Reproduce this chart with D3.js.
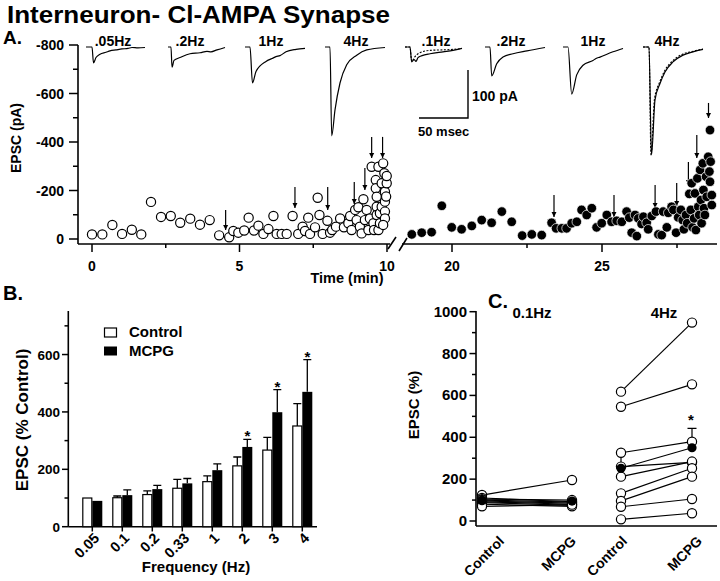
<!DOCTYPE html>
<html><head><meta charset="utf-8">
<script src="https://cdn.jsdelivr.net/npm/d3@7"></script>
<style>
body{margin:0;background:#fff}
text{font-family:"Liberation Sans",Arial,Helvetica,sans-serif;font-weight:bold;fill:#000}
</style>
</head><body>
<svg id="c" width="720" height="581"></svg>
<script>
// ---------------- DATA ----------------
// Panel A: EPSC amplitude (pA) vs time (min)
const controlPts = [
[0.00,-19],[0.35,-19],[0.69,-58],[1.02,-21],[1.35,-38],[1.67,-19],[2.00,-153],[2.34,-91],[2.67,-95],[2.99,-67],[3.33,-84],[3.66,-59],[3.99,-78],[4.31,-15],[4.65,-7],[4.79,-33],[4.96,-26],[5.16,-35],[5.31,-88],[5.49,-35],[5.64,-55],[5.81,-21],[5.98,-41],[6.15,-95],[6.26,-21],[6.43,-21],[6.60,-21],[6.80,-95],[6.99,-21],[7.14,-51],[7.22,-33],[7.33,-88],[7.39,-21],[7.56,-48],[7.65,-170],[7.71,-99],[7.82,-21],[7.98,-75],[8.07,-26],[8.14,-37],[8.27,-51],[8.41,-85],[8.54,-48],[8.69,-65],[8.75,-95],[8.80,-37],[8.92,-120],[8.97,-78],[9.03,-131],[9.08,-51],[9.14,-23],[9.20,-164],[9.25,-78],[9.31,-120],[9.37,-37],[9.42,-85],[9.48,-298],[9.54,-65],[9.56,-37],[9.62,-243],[9.62,-209],[9.65,-174],[9.65,-133],[9.65,-99],[9.71,-298],[9.71,-37],[9.76,-106],[9.76,-65],[9.82,-230],[9.82,-133],[9.87,-312],[9.91,-271],[9.93,-195],[9.93,-154],[9.93,-113],[9.93,-85],[9.87,-58],[9.99,-230],[9.99,-260],[9.97,-175]
];
const mcpgPts = [
[18.66,-19],[18.99,-26],[19.32,-28],[19.66,-137],[19.99,-48],[20.32,-40],[20.66,-54],[20.99,-78],[21.32,-67],[21.66,-113],[21.99,-71],[22.34,-14],[22.66,-19],[22.99,-16],[23.32,-67],[23.47,-44],[23.66,-44],[23.82,-44],[23.99,-65],[24.16,-71],[24.32,-120],[24.49,-99],[24.66,-127],[24.82,-48],[24.99,-65],[25.16,-99],[25.32,-71],[25.49,-75],[25.66,-71],[25.82,-113],[25.91,-88],[25.99,-26],[26.10,-99],[26.16,-12],[26.21,-85],[26.32,-62],[26.38,-92],[26.49,-67],[26.54,-40],[26.66,-95],[26.80,-113],[26.88,-19],[26.99,-16],[27.04,-113],[27.16,-48],[27.21,-108],[27.32,-133],[27.38,-120],[27.47,-26],[27.54,-89],[27.63,-120],[27.69,-78],[27.73,-40],[27.80,-99],[27.84,-65],[27.91,-186],[27.96,-120],[27.99,-230],[28.02,-48],[28.07,-85],[28.10,-188],[28.13,-37],[28.18,-250],[28.21,-133],[28.24,-99],[28.27,-285],[28.30,-161],[28.32,-65],[28.36,-312],[28.38,-202],[28.40,-127],[28.43,-99],[28.47,-257],[28.49,-174],[28.54,-339],[28.58,-278],[28.60,-236],[28.62,-319],[28.66,-181],[28.66,-140],[28.60,-449]
];
// arrows: [time, tail pA, tip pA]
const controlArrows = [[4.53,-120,-37],[6.88,-214,-128],[7.99,-214,-120],[8.89,-235,-144],[9.25,-293,-202],[9.48,-421,-334],[9.85,-421,-334]];
const mcpgArrows = [[23.4,-181,-91],[25.4,-181,-91],[26.77,-223,-128],[27.49,-231,-136],[27.88,-318,-223],[28.16,-429,-334],[28.55,-561,-499]];
const yTicksA = [0,-200,-400,-600,-800];
const xTicksLeft = [0,5,10];
const xTicksRight = [20,25];

// Sample traces [ms, pA]
const traceLabelsCtl = [".05Hz",".2Hz","1Hz","4Hz"];
const traceLabelsMcpg = [".1Hz",".2Hz","1Hz","4Hz"];
const tracesCtl = [
 [[-6,0],[0,0],[1.5,-33],[4,-22],[8,-15],[14,-11],[18,-8],[24,-6],[30,-4],[36,-3],[40,-1],[46,-2],[53,-1]],
 [[-3,0],[0,0],[1,-42],[3,-28],[9,-22],[19,-14],[29,-12],[36,-9],[40,-10],[46,-6],[54,-1]],
 [[-5,0],[0,0],[2.5,-75],[6,-51],[16,-30],[22,-24],[26,-20],[30,-18],[36,-10],[46,-5],[55,-3]],
 [[-5,0],[0,0],[1.7,-185],[5,-131],[10,-75],[16.7,-37],[26.7,-17],[36.7,-6],[55,-1]]
];
const tracesMcpg = [
 [[-5,0],[0,0],[1.7,-31],[4,-26],[6,-30],[8,-22],[12,-18],[20,-14],[33,-10],[43,-7],[52,-3]],
 [[-5,0],[0,0],[1.7,-60],[6.7,-35],[13,-21],[23,-14],[37,-8],[55,-1]],
 [[-5,0],[0,0],[3.7,-98],[8.7,-58],[15,-38],[25,-28],[28,-24],[32,-21],[45,-10],[55,-3]],
 [[-6,0],[0,0],[2.5,-225],[6,-110],[11,-76],[16,-52],[24,-31],[34,-17],[44,-10],[54,-5]]
];
const tracesMcpgDashed = [
 [[-5,0],[0,0],[1.7,-30],[5,-20],[10,-12],[20,-7],[33,-6],[43,-5],[52,-3]],
 null, null,
 [[-6,0],[0,0],[2,-225],[5.5,-108],[10.5,-74],[15.5,-50],[23.5,-29],[33.5,-15],[44,-9],[54,-4]]
];

// Panel B: EPSC (% control) by frequency
const freqLabels = ["0.05","0.1","0.2","0.33","1","2","3","4"];
const bControl = [100,101,112,134,157,212,267,351];
const bControlSem = [0,6,13,31,20,31,44,78];
const bMcpg = [90,110,131,151,197,278,399,470];
const bMcpgSem = [0,18,13,17,22,26,79,112];
const bSignificant = [false,false,false,false,false,true,true,true];
const yTicksB = [0,200,400,600];

// Panel C: individual cells (EPSC %)
const cCategories = ["Control","MCPG","Control ","MCPG "];
const c01Control = [124,110,104,100,96,92,88,80,70];
const c01Mcpg = [196,92,100,90,85,80,75,70,78];
const c4Control = [618,546,326,260,212,132,96,68,8];
const c4Mcpg = [948,653,379,280,284,252,212,105,37];
const c01Mean = [97,95];
const c4Mean = [252,350];
const c4Sem = [68,93];
const yTicksC = [0,200,400,600,800,1000];

// ---------------- DRAW ----------------
const svg = d3.select("#c");

svg.append("text").attr("x",7).attr("y",23).style("font-size","23px")
  .attr("textLength",383).attr("lengthAdjust","spacingAndGlyphs")
  .text("Interneuron- Cl-AMPA Synapse");
svg.append("text").attr("x",3).attr("y",44).style("font-size","19px").text("A.");
svg.append("text").attr("x",3).attr("y",300).style("font-size","20px").text("B.");
svg.append("text").attr("x",488).attr("y",308).style("font-size","20px").text("C.");

// ===== Panel A =====
const A = svg.append("g");
const yA = d3.scaleLinear().domain([0,-800]).range([239,45]);
const xL = d3.scaleLinear().domain([0,10]).range([92,387]);
const xR = d3.scaleLinear().domain([20,25]).range([452,602]);
const axisYA = 244;

A.append("line").attr("x1",78).attr("x2",78).attr("y1",45).attr("y2",axisYA).attr("stroke","#000").attr("stroke-width",1.6);
A.append("line").attr("x1",78).attr("x2",390).attr("y1",axisYA).attr("y2",axisYA).attr("stroke","#000").attr("stroke-width",1.6);
A.append("line").attr("x1",402).attr("x2",717).attr("y1",axisYA).attr("y2",axisYA).attr("stroke","#000").attr("stroke-width",1.6);
A.append("path").attr("d","M388,249 L396,237 M399,251 L407,238").attr("stroke","#000").attr("stroke-width",1.6).attr("fill","none");

const yTickMinorA = d3.range(-100,-800,-200);
A.selectAll(null).data(yTicksA).join("line").attr("x1",69).attr("x2",78).attr("y1",d=>yA(d)).attr("y2",d=>yA(d)).attr("stroke","#000").attr("stroke-width",1.5);
A.selectAll(null).data(yTickMinorA).join("line").attr("x1",73).attr("x2",78).attr("y1",d=>yA(d)).attr("y2",d=>yA(d)).attr("stroke","#000").attr("stroke-width",1.5);
A.selectAll(null).data(yTicksA).join("text").attr("x",64).attr("y",d=>yA(d)+5).attr("text-anchor","end").style("font-size","14px").text(d=>String(d));
A.append("text").attr("transform","translate(21,138) rotate(-90)").attr("text-anchor","middle").style("font-size","14px").text("EPSC (pA)");

function xTicks(scale, majors, minors){
  A.selectAll(null).data(majors).join("line").attr("x1",d=>scale(d)).attr("x2",d=>scale(d)).attr("y1",axisYA).attr("y2",axisYA+8).attr("stroke","#000").attr("stroke-width",1.5);
  A.selectAll(null).data(minors).join("line").attr("x1",d=>scale(d)).attr("x2",d=>scale(d)).attr("y1",axisYA).attr("y2",axisYA+4).attr("stroke","#000").attr("stroke-width",1.5);
  A.selectAll(null).data(majors).join("text").attr("x",d=>scale(d)).attr("y",271).attr("text-anchor","middle").style("font-size","14px").text(d=>d);
}
xTicks(xL, xTicksLeft, [2.5,7.5]);
xTicks(xR, xTicksRight, [22.5,27.5]);
A.append("text").attr("x",347).attr("y",283).attr("text-anchor","middle").style("font-size","14.5px").text("Time (min)");

const defs = svg.append("defs");
defs.append("marker").attr("id","ah").attr("viewBox","0 0 10 10").attr("refX",10).attr("refY",5)
  .attr("markerWidth",5).attr("markerHeight",6).attr("markerUnits","userSpaceOnUse").attr("orient","auto")
  .append("path").attr("d","M0,0 L10,5 L0,10 Z").attr("fill","#000");
function arrows(data, scale){
  A.selectAll(null).data(data).join("line")
    .attr("x1",d=>scale(d[0])).attr("x2",d=>scale(d[0]))
    .attr("y1",d=>yA(d[1])).attr("y2",d=>yA(d[2]))
    .attr("stroke","#000").attr("stroke-width",1.2).attr("marker-end","url(#ah)");
}
arrows(controlArrows, xL);
arrows(mcpgArrows, xR);

A.selectAll(null).data(controlPts).join("circle").attr("cx",d=>xL(d[0])).attr("cy",d=>yA(d[1])).attr("r",4.6)
  .attr("fill","#fff").attr("stroke","#000").attr("stroke-width",1.2);
A.selectAll(null).data(mcpgPts).join("circle").attr("cx",d=>xR(d[0])).attr("cy",d=>yA(d[1])).attr("r",4.8)
  .attr("fill","#000").attr("stroke","#fff").attr("stroke-width",0.7);

const traceOriginsCtl = [92,171,250,330];
const traceOriginsMcpg = [410,490,568,649];
const traceLabelX_Ctl = [113,190,271,356];
const traceLabelX_Mcpg = [436,511,593,667];
const tyA = d3.scaleLinear().domain([0,-100]).range([47,95]);
function drawTrace(pts, x0, dashed){
  const tx = d3.scaleLinear().domain([0,50]).range([x0,x0+50]);
  const line = d3.line().x(d=>tx(d[0])).y(d=>tyA(d[1])).curve(d3.curveMonotoneX);
  A.append("path").attr("d",line(pts)).attr("fill","none").attr("stroke","#000")
   .attr("stroke-width",dashed?1.1:1.2).attr("stroke-dasharray",dashed?"2,1.5":null);
}
tracesCtl.forEach((t,i)=>drawTrace(t, traceOriginsCtl[i], false));
tracesMcpgDashed.forEach((t,i)=>{ if(t) drawTrace(t, traceOriginsMcpg[i], true); });
tracesMcpg.forEach((t,i)=>drawTrace(t, traceOriginsMcpg[i], false));
A.selectAll(null).data(traceLabelsCtl).join("text").attr("x",(d,i)=>traceLabelX_Ctl[i]).attr("y",46).attr("text-anchor","middle").style("font-size","14px").text(d=>d);
A.selectAll(null).data(traceLabelsMcpg).join("text").attr("x",(d,i)=>traceLabelX_Mcpg[i]).attr("y",46).attr("text-anchor","middle").style("font-size","14px").text(d=>d);
const sbx = d3.scaleLinear().domain([0,50]).range([419,468]);
A.append("path").attr("d",`M${sbx(0)},${tyA(-100)+23} L${sbx(50)},${tyA(-100)+23} L${sbx(50)},${tyA(0)+23}`).attr("fill","none").attr("stroke","#000").attr("stroke-width",1.4);
A.append("text").attr("x",472).attr("y",101).style("font-size","14px").text("100 pA");
A.append("text").attr("x",418).attr("y",136).style("font-size","13px").text("50 msec");

// ===== Panel B =====
const B = svg.append("g");
const yB = d3.scaleLinear().domain([0,750]).range([526.7,311.5]);
const xB = d3.scalePoint().domain(freqLabels).range([92.3,302.3]);
const bw = 10;
B.append("line").attr("x1",68.3).attr("x2",68.3).attr("y1",311).attr("y2",526.7).attr("stroke","#000").attr("stroke-width",1.6);
B.append("line").attr("x1",68.3).attr("x2",317).attr("y1",526.7).attr("y2",526.7).attr("stroke","#000").attr("stroke-width",1.6);
B.selectAll(null).data(yTicksB).join("line").attr("x1",62).attr("x2",68.3).attr("y1",d=>yB(d)).attr("y2",d=>yB(d)).attr("stroke","#000").attr("stroke-width",1.5);
B.selectAll(null).data([100,300,500,700]).join("line").attr("x1",64.5).attr("x2",68.3).attr("y1",d=>yB(d)).attr("y2",d=>yB(d)).attr("stroke","#000").attr("stroke-width",1.5);
B.selectAll(null).data(yTicksB).join("text").attr("x",60).attr("y",d=>yB(d)+5).attr("text-anchor","end").style("font-size","13.5px").text(d=>d);
B.selectAll(null).data(freqLabels).join("line").attr("x1",d=>xB(d)).attr("x2",d=>xB(d)).attr("y1",526.7).attr("y2",531.5).attr("stroke","#000").attr("stroke-width",1.5);
B.selectAll(null).data(freqLabels).join("text")
  .attr("transform",d=>`translate(${xB(d)+8},539) rotate(-45)`).attr("text-anchor","end").style("font-size","14.5px").text(d=>d);
B.append("text").attr("x",196).attr("y",572).attr("text-anchor","middle").style("font-size","15px").text("Frequency (Hz)");
B.append("text").attr("transform","translate(28,420) rotate(-90)").attr("text-anchor","middle").style("font-size","17px").text("EPSC (% Control)");
function errBars(vals, sems, off){
  const data = vals.map((v,i)=>({v, s:sems[i], c:freqLabels[i]})).filter(d=>d.s>0);
  B.selectAll(null).data(data).join("path")
    .attr("d",d=>{const x=xB(d.c)+off; return `M${x},${yB(d.v)} L${x},${yB(d.v+d.s)} M${x-4},${yB(d.v+d.s)} L${x+4},${yB(d.v+d.s)}`;})
    .attr("stroke","#000").attr("stroke-width",1.3).attr("fill","none");
}
errBars(bControl, bControlSem, -bw/2);
errBars(bMcpg, bMcpgSem, bw/2);
B.selectAll(null).data(bControl).join("rect").attr("x",(d,i)=>xB(freqLabels[i])-bw+0.5).attr("width",bw-1).attr("y",d=>yB(d)).attr("height",d=>yB(0)-yB(d))
  .attr("fill","#fff").attr("stroke","#000").attr("stroke-width",1.2);
B.selectAll(null).data(bMcpg).join("rect").attr("x",(d,i)=>xB(freqLabels[i])).attr("width",bw).attr("y",d=>yB(d)).attr("height",d=>yB(0)-yB(d))
  .attr("fill","#000");
B.selectAll(null).data(bMcpg.map((v,i)=>({v,i})).filter(d=>bSignificant[d.i])).join("text")
  .attr("x",d=>xB(freqLabels[d.i])+bw/2).attr("y",d=>yB(d.v+bMcpgSem[d.i])+2).attr("text-anchor","middle").style("font-size","15px").text("*");
B.append("rect").attr("x",104.5).attr("y",328).attr("width",12).attr("height",9).attr("fill","#fff").attr("stroke","#000").attr("stroke-width",1.2);
B.append("rect").attr("x",104).attr("y",346.5).attr("width",13).attr("height",9).attr("fill","#000");
B.append("text").attr("x",129).attr("y",337).style("font-size","15px").text("Control");
B.append("text").attr("x",129).attr("y",356).style("font-size","15px").text("MCPG");

// ===== Panel C =====
const C = svg.append("g");
const yC = d3.scaleLinear().domain([0,1000]).range([521,311.7]);
const xC = d3.scaleOrdinal().domain(cCategories).range([482,572,621,692]);
const xCLabel = d3.scaleOrdinal().domain(cCategories).range([505,577,628,703]);
C.append("line").attr("x1",476).attr("x2",476).attr("y1",311).attr("y2",526).attr("stroke","#000").attr("stroke-width",1.6);
C.append("line").attr("x1",476).attr("x2",717).attr("y1",526).attr("y2",526).attr("stroke","#000").attr("stroke-width",1.6);
C.selectAll(null).data(yTicksC).join("line").attr("x1",469.5).attr("x2",476).attr("y1",d=>yC(d)).attr("y2",d=>yC(d)).attr("stroke","#000").attr("stroke-width",1.5);
C.selectAll(null).data([100,300,500,700,900]).join("line").attr("x1",472).attr("x2",476).attr("y1",d=>yC(d)).attr("y2",d=>yC(d)).attr("stroke","#000").attr("stroke-width",1.5);
C.selectAll(null).data(yTicksC).join("text").attr("x",467).attr("y",d=>yC(d)+5).attr("text-anchor","end").style("font-size","15px").text(d=>d);
C.selectAll(null).data(cCategories).join("text")
  .attr("transform",d=>`translate(${xCLabel(d)},542) rotate(-45)`).attr("text-anchor","end").style("font-size","14px").text(d=>d.trim());
C.append("text").attr("transform","translate(419,405) rotate(-90)").attr("text-anchor","middle").style("font-size","15px").text("EPSC (%)");
C.append("text").attr("x",532).attr("y",318).attr("text-anchor","middle").style("font-size","15px").text("0.1Hz");
C.append("text").attr("x",664).attr("y",318).attr("text-anchor","middle").style("font-size","15px").text("4Hz");

function pairs(ctl, mcpg, c0, c1){
  const data = ctl.map((v,i)=>[v,mcpg[i]]);
  C.selectAll(null).data(data).join("line").attr("x1",xC(c0)).attr("x2",xC(c1)).attr("y1",d=>yC(d[0])).attr("y2",d=>yC(d[1])).attr("stroke","#000").attr("stroke-width",1.2);
}
pairs(c01Control, c01Mcpg, cCategories[0], cCategories[1]);
pairs(c4Control, c4Mcpg, cCategories[2], cCategories[3]);
C.append("line").attr("x1",xC(cCategories[2])).attr("x2",xC(cCategories[3])).attr("y1",yC(c4Mean[0])).attr("y2",yC(c4Mean[1])).attr("stroke","#000").attr("stroke-width",1.2);
[0,1].forEach(j=>{
  const x = xC(cCategories[2+j]);
  C.append("path").attr("d",`M${x},${yC(c4Mean[j])} L${x},${yC(c4Mean[j]+c4Sem[j])} M${x-4.5},${yC(c4Mean[j]+c4Sem[j])} L${x+4.5},${yC(c4Mean[j]+c4Sem[j])}`)
    .attr("stroke","#000").attr("stroke-width",1.2).attr("fill","none");
});
function circles(vals, cat){
  C.selectAll(null).data(vals).join("circle").attr("cx",xC(cat)).attr("cy",d=>yC(d)).attr("r",4.6)
    .attr("fill","#fff").attr("stroke","#000").attr("stroke-width",1.2);
}
circles(c01Control, cCategories[0]); circles(c01Mcpg, cCategories[1]);
circles(c4Control, cCategories[2]); circles(c4Mcpg, cCategories[3]);
C.selectAll(null).data([[cCategories[0],c01Mean[0]],[cCategories[1],c01Mean[1]],[cCategories[2],c4Mean[0]],[cCategories[3],c4Mean[1]]]).join("circle")
  .attr("cx",d=>xC(d[0])).attr("cy",d=>yC(d[1])).attr("r",4.6).attr("fill","#000");
C.append("text").attr("x",xC(cCategories[3])-1).attr("y",yC(c4Mean[1]+c4Sem[1])-3).attr("text-anchor","middle").style("font-size","15px").text("*");
</script>
</body></html>
